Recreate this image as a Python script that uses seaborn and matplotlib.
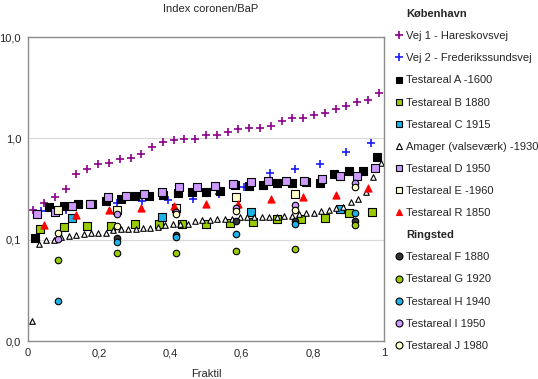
import numpy as np
import matplotlib
matplotlib.use('Agg')
import matplotlib.pyplot as plt
import seaborn as sns
from matplotlib.lines import Line2D

# 데이터
x_vej1 = [0.015, 0.045, 0.076, 0.106, 0.136, 0.167, 0.197, 0.227, 0.258, 0.288, 0.318,
          0.348, 0.379, 0.409, 0.439, 0.470, 0.500, 0.530, 0.561, 0.591, 0.621, 0.652,
          0.682, 0.712, 0.742, 0.773, 0.803, 0.833, 0.864, 0.894, 0.924, 0.955, 0.985]
y_vej1 = [0.199, 0.233, 0.262, 0.316, 0.445, 0.498, 0.554, 0.567, 0.629, 0.644, 0.705,
          0.815, 0.914, 0.962, 0.984, 0.996, 1.07, 1.08, 1.15, 1.24, 1.27, 1.28,
          1.33, 1.49, 1.59, 1.61, 1.69, 1.78, 1.96, 2.10, 2.30, 2.39, 2.78]

x_vej2 = [0.036, 0.107, 0.179, 0.250, 0.321, 0.393, 0.464, 0.536, 0.607, 0.679, 0.750,
          0.821, 0.893, 0.964]
y_vej2 = [0.191, 0.196, 0.220, 0.233, 0.242, 0.245, 0.252, 0.281, 0.333, 0.451, 0.494,
          0.561, 0.736, 0.893]

x_a = [0.02, 0.06, 0.10, 0.14, 0.18, 0.22, 0.26, 0.30, 0.34, 0.38, 0.42, 0.46, 0.50,
       0.54, 0.58, 0.62, 0.66, 0.70, 0.74, 0.78, 0.82, 0.86, 0.90, 0.94, 0.98]
y_a = [0.104, 0.210, 0.215, 0.227, 0.225, 0.244, 0.253, 0.271, 0.271, 0.276, 0.292, 0.293,
       0.297, 0.301, 0.346, 0.342, 0.348, 0.360, 0.360, 0.368, 0.367, 0.447, 0.474, 0.479, 0.658]

x_b = [0.033, 0.100, 0.167, 0.233, 0.300, 0.367, 0.433, 0.500, 0.567, 0.633, 0.700,
       0.767, 0.833, 0.900, 0.967]
y_b = [0.127, 0.133, 0.138, 0.138, 0.143, 0.142, 0.143, 0.143, 0.148, 0.149, 0.159,
       0.162, 0.164, 0.184, 0.187]

x_c = [0.125, 0.375, 0.625, 0.875]
y_c = [0.165, 0.168, 0.190, 0.202]

x_amager = [0.010, 0.031, 0.052, 0.073, 0.094, 0.115, 0.135, 0.156, 0.177, 0.198, 0.219,
            0.240, 0.260, 0.281, 0.302, 0.323, 0.344, 0.365, 0.385, 0.406, 0.427, 0.448,
            0.469, 0.490, 0.510, 0.531, 0.552, 0.573, 0.594, 0.615, 0.635, 0.656, 0.677,
            0.698, 0.719, 0.740, 0.760, 0.781, 0.802, 0.823, 0.844, 0.865, 0.885, 0.906,
            0.927, 0.948, 0.969, 0.990]
y_amager = [0.0158, 0.090, 0.0995, 0.100, 0.107, 0.109, 0.111, 0.114, 0.117, 0.117, 0.117,
            0.124, 0.127, 0.128, 0.128, 0.130, 0.131, 0.135, 0.140, 0.143, 0.144, 0.144,
            0.152, 0.156, 0.156, 0.160, 0.162, 0.162, 0.166, 0.168, 0.168, 0.166, 0.166,
            0.166, 0.171, 0.171, 0.179, 0.182, 0.184, 0.193, 0.196, 0.207, 0.211, 0.237,
            0.252, 0.295, 0.412, 0.567]

x_d = [0.025, 0.075, 0.125, 0.175, 0.225, 0.275, 0.325, 0.375, 0.425, 0.475, 0.525,
       0.575, 0.625, 0.675, 0.725, 0.775, 0.825, 0.875, 0.925, 0.975]
y_d = [0.181, 0.190, 0.216, 0.224, 0.267, 0.272, 0.282, 0.297, 0.331, 0.333, 0.340,
       0.352, 0.370, 0.380, 0.381, 0.381, 0.397, 0.425, 0.428, 0.506]

x_e = [0.083, 0.250, 0.417, 0.583, 0.750]
y_e = [0.199, 0.199, 0.207, 0.264, 0.281]

x_r = [0.045, 0.136, 0.227, 0.318, 0.409, 0.500, 0.591, 0.682, 0.773, 0.864, 0.955]
y_r = [0.139, 0.176, 0.199, 0.206, 0.216, 0.228, 0.228, 0.252, 0.265, 0.276, 0.321]

x_f = [0.250, 0.417, 0.583, 0.750, 0.917]
y_f = [0.105, 0.112, 0.153, 0.154, 0.154]

x_ring = [0.083, 0.250, 0.417, 0.583, 0.750, 0.917]
y_g = [0.0625, 0.0733, 0.0733, 0.0772, 0.0817, 0.139]
y_h = [0.0249, 0.0953, 0.107, 0.115, 0.142, 0.184]
y_i = [0.101, 0.179, 0.188, 0.207, 0.220, 0.365]
y_j = [0.117, 0.136, 0.178, 0.191, 0.196, 0.333]

sns.set_style('white')
plt.rcParams['font.family'] = ['Liberation Sans', 'DejaVu Sans']
plt.rcParams['font.size'] = 8

SKY = '#1cb4e8'
LIME = '#99cc00'
LAV = '#cc99ff'
PALE = '#ffffcc'

# (라벨, x, y, 마커, 면색, 테두리색, 크기)
series = [
    ('Vej 1 - Hareskovsvej', x_vej1, y_vej1, '+', '#8b008b', '#8b008b', 40),
    ('Vej 2 - Frederikssundsvej', x_vej2, y_vej2, '+', '#1a1aff', '#1a1aff', 40),
    ('Testareal A -1600', x_a, y_a, 's', 'black', 'black', 28),
    ('Testareal B 1880', x_b, y_b, 's', LIME, 'black', 28),
    ('Testareal C 1915', x_c, y_c, 's', SKY, 'black', 28),
    ('Amager (valseværk) -1930', x_amager, y_amager, '^', 'white', 'black', 16),
    ('Testareal D 1950', x_d, y_d, 's', LAV, 'black', 28),
    ('Testareal E -1960', x_e, y_e, 's', PALE, 'black', 28),
    ('Testareal R 1850', x_r, y_r, '^', 'red', 'red', 26),
    ('Testareal F 1880', x_f, y_f, 'o', '#333333', 'black', 22),
    ('Testareal G 1920', x_ring, y_g, 'o', LIME, 'black', 22),
    ('Testareal H 1940', x_ring, y_h, 'o', SKY, 'black', 22),
    ('Testareal I 1950', x_ring, y_i, 'o', LAV, 'black', 22),
    ('Testareal J 1980', x_ring, y_j, 'o', PALE, 'black', 22),
]

fig = plt.figure(figsize=(5.38, 3.79), dpi=100)
ax = fig.add_axes([0.052, 0.100, 0.662, 0.802])

handles = []
for label, xs, ys, mk, fc, ec, s in series:
    if mk == '+':
        sns.scatterplot(x=xs, y=ys, ax=ax, marker='+', color=fc, s=s, linewidth=1.2)
    else:
        sns.scatterplot(x=xs, y=ys, ax=ax, marker=mk, color=fc, edgecolor=ec, s=s, linewidth=0.8)
    handles.append(Line2D([], [], linestyle='none', marker=mk, markersize=5 if mk != '+' else 6,
                          markerfacecolor=fc, markeredgecolor=ec, markeredgewidth=0.8 if mk != '+' else 1.2,
                          label=label))

ax.set_yscale('log')
ax.set_xlim(0, 1)
ax.set_ylim(0.01, 10)
ax.set_yticks([0.01, 0.1, 1, 10])
ax.set_yticklabels(['0,0', '0,1', '1,0', '10,0'])
ax.set_xticks([0, 0.2, 0.4, 0.6, 0.8, 1.0])
ax.set_xticklabels(['0', '0,2', '0,4', '0,6', '0,8', '1'])
ax.tick_params(axis='both', which='major', direction='out', length=3, width=0.8,
               color='#808080', labelsize=8, pad=2)
ax.tick_params(axis='y', which='minor', direction='in', length=2, width=0.6, color='#808080')
ax.yaxis.grid(True, which='major', color='#d9d9d9', linewidth=0.8)
ax.set_axisbelow(True)
for sp in ax.spines.values():
    sp.set_color('#8c8c8c')
    sp.set_linewidth(1.0)
ax.set_xlabel('Fraktil', fontsize=8, labelpad=8)

fig.text(0.392, 0.976, 'Index coronen/BaP', ha='center', va='center', fontsize=8)

# 범례 (København / Ringsted 제목 포함)
header_k = Line2D([], [], linestyle='none', label='København')
header_r = Line2D([], [], linestyle='none', label='Ringsted')
leg_handles = [header_k] + handles[:9] + [header_r] + handles[9:]
leg = fig.legend(handles=leg_handles, loc='upper left', bbox_to_anchor=(0.725, 0.992),
                 frameon=False, fontsize=8, handlelength=0.6, handletextpad=0.3,
                 labelspacing=1.09, borderaxespad=0.15)
for t in leg.get_texts():
    if t.get_text() in ('København', 'Ringsted'):
        t.set_fontweight('bold')

fig.savefig('out.png', dpi=100)
